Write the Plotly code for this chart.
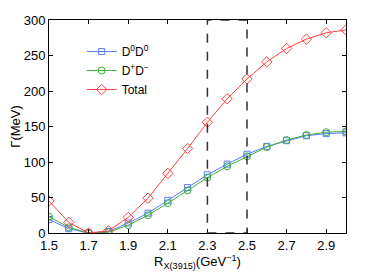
import plotly.graph_objects as go

r_vals = [1.5, 1.6, 1.7, 1.8, 1.9, 2.0, 2.1, 2.2, 2.3, 2.4, 2.5, 2.6, 2.7, 2.8, 2.9, 3.0]
d0d0 = [19, 6, 0, 2, 14, 28, 46, 64, 82, 97, 111, 122, 130, 137, 140, 141]
dpdm = [23, 8, 0, 1, 11, 25, 42, 60, 78, 94, 108, 121, 131, 138, 142, 143]
total = [45, 15, 0, 3, 22, 49, 84, 119, 156, 189, 217, 241, 260, 273, 282, 286]

x_ticks = [1.5, 1.7, 1.9, 2.1, 2.3, 2.5, 2.7, 2.9]
y_ticks = [0, 50, 100, 150, 200, 250, 300]
band = (2.3, 2.5, 0, 300)

fig = go.Figure()
fig.add_trace(go.Scatter(x=r_vals, y=d0d0, name="D<sup>0</sup>D<sup>0</sup>", mode="lines+markers",
                         line=dict(color="#5b7cff", width=1),
                         marker=dict(symbol="square-open", size=6, color="#5b7cff", line=dict(width=1))))
fig.add_trace(go.Scatter(x=r_vals, y=dpdm, name="D<sup>+</sup>D<sup>−</sup>", mode="lines+markers",
                         line=dict(color="#3cae3c", width=1),
                         marker=dict(symbol="circle-open", size=7, color="#3cae3c", line=dict(width=1))))
fig.add_trace(go.Scatter(x=r_vals, y=total, name="Total", mode="lines+markers",
                         line=dict(color="#ff4040", width=1),
                         marker=dict(symbol="diamond-open", size=8, color="#ff4040", line=dict(width=1))))

fig.add_shape(type="rect", xref="x", yref="y", x0=band[0], x1=band[1], y0=band[2], y1=band[3],
              line=dict(color="#333333", width=1.5, dash="dash"), fillcolor="rgba(0,0,0,0)")

axis_common = dict(showline=True, linecolor="black", linewidth=1, mirror="ticks", ticks="inside",
                   ticklen=4, tickcolor="black", showgrid=False, zeroline=False, automargin=False,
                   tickfont=dict(family="Liberation Sans, Arial", size=13, color="black"))

fig.update_xaxes(range=[1.5, 3.0], tickvals=x_ticks, ticktext=[f"{v:.1f}" for v in x_ticks],
                 title=dict(text="R<sub>X(3915)</sub>(GeV<sup>−1</sup>)", standoff=2,
                            font=dict(family="Liberation Sans, Arial", size=13, color="black")),
                 **axis_common)
fig.update_yaxes(range=[0, 300], tickvals=y_ticks,
                 title=dict(text="Γ(MeV)", standoff=6,
                            font=dict(family="Liberation Sans, Arial", size=13, color="black")),
                 **axis_common)

fig.update_layout(
    width=374, height=265,
    margin=dict(l=41, r=36, t=12, b=40),
    paper_bgcolor="white", plot_bgcolor="white",
    legend=dict(x=0.11, y=0.92, xanchor="left", yanchor="top", bgcolor="rgba(0,0,0,0)",
                font=dict(family="Liberation Sans, Arial", size=12, color="black"),
                tracegroupgap=0, itemwidth=30),
    showlegend=True,
)

fig.write_html("out.html")
